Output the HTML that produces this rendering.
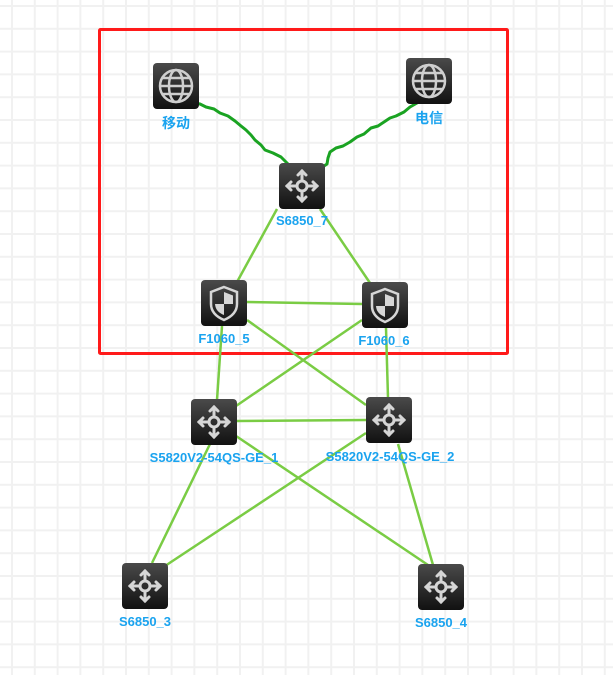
<!DOCTYPE html>
<html><head><meta charset="utf-8"><style>
html,body{margin:0;padding:0;background:#fff;}
svg{display:block}
text{font-family:"Liberation Sans","Noto Sans CJK SC",sans-serif;font-weight:bold;font-size:13px;fill:#1aa3ef;text-anchor:middle}
text.cn{font-size:14px}
</style></head><body>
<svg width="613" height="675" viewBox="0 0 613 675" xmlns="http://www.w3.org/2000/svg">
<defs>
<pattern id="g" x="11" y="5" width="22.8" height="22.8" patternUnits="userSpaceOnUse">
<path d="M1 0V22.8M0 1H22.8" stroke="#f1f1f1" stroke-width="2" fill="none"/>
</pattern>
<linearGradient id="bg" x1="0" y1="0" x2="0" y2="1"><stop offset="0" stop-color="#4a4a4a"/><stop offset="1" stop-color="#111"/></linearGradient>
<symbol id="sw" viewBox="0 0 46 46">
<rect x="0" y="0" width="46" height="46" rx="4" fill="url(#bg)"/>
<g stroke="#d6d6d6" stroke-width="3" fill="none" stroke-linecap="round">
<circle cx="23" cy="23" r="5"/>
<path d="M23 18V8M23 28V38M18 23H8M28 23H38"/>
<path d="M19 12L23 8L27 12M19 34L23 38L27 34M12 19L8 23L12 27M34 19L38 23L34 27"/>
</g></symbol>
<symbol id="fw" viewBox="0 0 46 46">
<rect x="0" y="0" width="46" height="46" rx="4" fill="url(#bg)"/>
<path d="M23 7L36 12V24C36 32 30 37 23 40C16 37 10 32 10 24V12Z" fill="none" stroke="#d6d6d6" stroke-width="2.5"/>
<path d="M23 12L32 15.5V24H23Z" fill="#d6d6d6"/><path d="M14 24H23V35C18 33 14.5 30 14 24Z" fill="#d6d6d6"/>
</symbol>
<symbol id="gl" viewBox="0 0 46 46">
<rect x="0" y="0" width="46" height="46" rx="4" fill="url(#bg)"/>
<g stroke="#cfcfcf" stroke-width="2.5" fill="none">
<circle cx="23" cy="23" r="16"/><ellipse cx="23" cy="23" rx="7" ry="16"/>
<path d="M7 23H39M10 15H36M10 31H36"/></g></symbol>
</defs>
<rect width="613" height="675" fill="url(#g)"/>
<rect x="99.5" y="29.5" width="408" height="324" fill="none" stroke="#ff1a1a" stroke-width="3" rx="1"/>
<g stroke="#7acc44" stroke-width="2.5">
<line x1="277" y1="209" x2="237" y2="282"/>
<line x1="320" y1="209" x2="370" y2="283"/>
<line x1="247" y1="302" x2="362" y2="304"/>
<line x1="222" y1="326" x2="217" y2="400"/>
<line x1="247" y1="320" x2="366" y2="405"/>
<line x1="362" y1="320" x2="236" y2="406"/>
<line x1="386" y1="328" x2="388" y2="398"/>
<line x1="236" y1="421" x2="366" y2="420"/>
<line x1="210" y1="444" x2="152" y2="563"/>
<line x1="236" y1="436" x2="428" y2="565"/>
<line x1="366" y1="433" x2="165" y2="566"/>
<line x1="398" y1="444" x2="433" y2="565"/>
</g>
<g stroke="#1aa322" stroke-width="3" fill="none" stroke-linejoin="round">
<polyline points="189,102 200,104 206,107 214,109 220,113 228,116 235,121 241,126 246,130 251,135 255,140 261,145 265,150 273,153 281,157 286,162 291,167 294,172"/>
<polyline points="421,96 417,103 410,107 404,112 396,116 390,118 384,122 378,126 371,128 364,134 357,137 350,142 343,146 336,148 330,152 328,158 327,164 321,168 319,176"/>
</g>
<use href="#gl" x="153" y="63" width="46" height="46"/>
<use href="#gl" x="406" y="58" width="46" height="46"/>
<use href="#sw" x="279" y="163" width="46" height="46"/>
<use href="#fw" x="201" y="280" width="46" height="46"/>
<use href="#fw" x="362" y="282" width="46" height="46"/>
<use href="#sw" x="191" y="399" width="46" height="46"/>
<use href="#sw" x="366" y="397" width="46" height="46"/>
<use href="#sw" x="122" y="563" width="46" height="46"/>
<use href="#sw" x="418" y="564" width="46" height="46"/>
<text class="cn" x="176" y="128">移动</text>
<text class="cn" x="429" y="123">电信</text>
<text x="302" y="225">S6850_7</text>
<text x="224" y="343">F1060_5</text>
<text x="384" y="345">F1060_6</text>
<text x="214" y="462">S5820V2-54QS-GE_1</text>
<text x="390" y="461">S5820V2-54QS-GE_2</text>
<text x="145" y="626">S6850_3</text>
<text x="441" y="627">S6850_4</text>
</svg>
</body></html>
